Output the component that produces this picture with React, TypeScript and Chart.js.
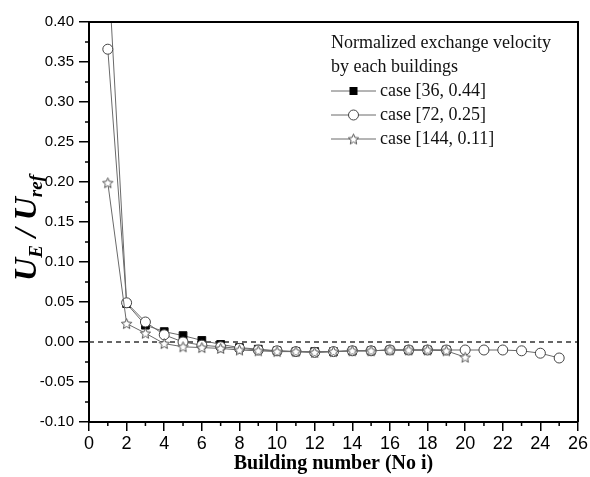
import React, { useEffect, useRef } from "react";
import { Chart, registerables } from "chart.js";

Chart.register(...registerables);

const buildings = [1, 2, 3, 4, 5, 6, 7, 8, 9, 10, 11, 12, 13, 14, 15, 16, 17, 18, 19, 20, 21, 22, 23, 24, 25];
const case36 = [0.48, 0.048, 0.021, 0.013, 0.008, 0.002, -0.003, -0.007, -0.009, -0.011, -0.012, -0.012, -0.012, -0.011, -0.011, -0.010, -0.010, -0.010, -0.010];
const case72 = [0.366, 0.049, 0.025, 0.009, 0.0, -0.004, -0.006, -0.008, -0.010, -0.011, -0.012, -0.013, -0.012, -0.011, -0.011, -0.010, -0.010, -0.010, -0.010, -0.010, -0.010, -0.010, -0.011, -0.014, -0.020];
const case144 = [0.199, 0.023, 0.011, -0.002, -0.006, -0.007, -0.008, -0.010, -0.011, -0.012, -0.012, -0.013, -0.012, -0.011, -0.011, -0.010, -0.010, -0.010, -0.011, -0.019];
const seriesLabels = ["case [36, 0.44]", "case [72, 0.25]", "case [144, 0.11]"];
const legendTitle = ["Normalized exchange velocity", "by each buildings"];
const xTitle = "Building number (No i)";

const LINE = "#6a6a6a";
const SERIF = '"Liberation Serif", "Times New Roman", serif';
const SANS = '"Liberation Sans", Arial, sans-serif';

function makeStar(size: number): HTMLCanvasElement {
  const c = document.createElement("canvas");
  c.width = size;
  c.height = size;
  const g = c.getContext("2d")!;
  const cx = size / 2, cy = size / 2 + 0.5;
  const R = size / 2 - 1, r = R * 0.45;
  g.beginPath();
  for (let i = 0; i < 10; i++) {
    const rad = i % 2 === 0 ? R : r;
    const a = -Math.PI / 2 + (i * Math.PI) / 5;
    const px = cx + rad * Math.cos(a), py = cy + rad * Math.sin(a);
    if (i === 0) g.moveTo(px, py); else g.lineTo(px, py);
  }
  g.closePath();
  g.fillStyle = "#fff";
  g.fill();
  g.strokeStyle = "#555";
  g.lineWidth = 1;
  g.stroke();
  return c;
}

function toPts(vals: number[]) {
  return vals.map((v, i) => ({ x: buildings[i], y: v }));
}

export default function App() {
  const ref = useRef<HTMLCanvasElement>(null);
  useEffect(() => {
    document.body.style.margin = "0";
    const star = makeStar(13);
    const styles: any[] = [
      { pointStyle: "rect", pointRadius: 5.5, bg: "#000", bc: "#111" },
      { pointStyle: "circle", pointRadius: 5, bg: "#fff", bc: "#444" },
      { pointStyle: star, pointRadius: 6, bg: "#fff", bc: "#555" },
    ];

    const decor = {
      id: "decor",
      beforeDatasetsDraw(chart: any) {
        const { ctx, chartArea: a, scales } = chart;
        const y0 = scales.y.getPixelForValue(0);
        ctx.save();
        ctx.strokeStyle = "#333";
        ctx.lineWidth = 1.5;
        ctx.setLineDash([5, 4]);
        ctx.beginPath();
        ctx.moveTo(a.left, y0);
        ctx.lineTo(a.right, y0);
        ctx.stroke();
        ctx.restore();
      },
      afterDraw(chart: any) {
        const { ctx, chartArea: a, scales } = chart;
        ctx.save();
        // frame top/right
        ctx.strokeStyle = "#000";
        ctx.lineWidth = 2;
        ctx.beginPath();
        ctx.moveTo(a.left, a.top);
        ctx.lineTo(a.right, a.top);
        ctx.lineTo(a.right, a.bottom);
        ctx.stroke();
        // minor ticks
        ctx.lineWidth = 1.5;
        ctx.beginPath();
        for (let v = 1; v < 26; v += 2) {
          const px = scales.x.getPixelForValue(v);
          ctx.moveTo(px, a.bottom);
          ctx.lineTo(px, a.bottom + 4);
        }
        for (let k = 0; k < 10; k++) {
          const v = -0.075 + k * 0.05;
          const py = scales.y.getPixelForValue(v);
          ctx.moveTo(a.left, py);
          ctx.lineTo(a.left - 4, py);
        }
        ctx.stroke();

        // x title
        ctx.fillStyle = "#000";
        ctx.font = `bold 20px ${SERIF}`;
        ctx.textAlign = "center";
        ctx.textBaseline = "alphabetic";
        ctx.fillText(xTitle, (a.left + a.right) / 2, 469);

        // y title: U_E / U_ref
        ctx.save();
        ctx.translate(36, 228);
        ctx.rotate(-Math.PI / 2);
        const big = `italic bold 32px ${SERIF}`;
        const small = `italic bold 19px ${SERIF}`;
        const parts: [string, string, number][] = [
          ["U", big, 0],
          ["E", small, 6],
          [" / ", big, 0],
          ["U", big, 0],
          ["ref", small, 6],
        ];
        let total = 0;
        for (const [t, f] of parts) {
          ctx.font = f;
          total += ctx.measureText(t).width;
        }
        let x = -total / 2;
        ctx.textAlign = "left";
        for (const [t, f, dy] of parts) {
          ctx.font = f;
          ctx.fillText(t, x, dy);
          x += ctx.measureText(t).width;
        }
        ctx.restore();

        // legend
        ctx.font = `18px ${SERIF}`;
        ctx.textAlign = "left";
        ctx.textBaseline = "middle";
        ctx.fillStyle = "#111";
        const lx = 331;
        let ly = 43;
        for (const t of legendTitle) {
          ctx.fillText(t, lx, ly);
          ly += 24;
        }
        seriesLabels.forEach((lab, i) => {
          ctx.strokeStyle = LINE;
          ctx.lineWidth = 1;
          ctx.beginPath();
          ctx.moveTo(lx, ly);
          ctx.lineTo(lx + 45, ly);
          ctx.stroke();
          const s = styles[i];
          const mx = lx + 22.5;
          if (i === 0) {
            ctx.fillStyle = "#000";
            ctx.fillRect(mx - 4, ly - 4, 8, 8);
          } else if (i === 1) {
            ctx.beginPath();
            ctx.arc(mx, ly, 5, 0, Math.PI * 2);
            ctx.fillStyle = "#fff";
            ctx.fill();
            ctx.strokeStyle = "#444";
            ctx.stroke();
          } else {
            ctx.drawImage(s.pointStyle, mx - 6.5, ly - 6.5);
          }
          ctx.fillStyle = "#111";
          ctx.fillText(lab, lx + 49, ly);
          ly += 24;
        });
        ctx.restore();
      },
    };

    const data = [case144, case72, case36];
    const order = [2, 1, 0];
    const chart = new Chart(ref.current!, {
      type: "line",
      data: {
        datasets: order.map((si, k) => ({
          label: seriesLabels[si],
          data: toPts(data[k]),
          borderColor: LINE,
          borderWidth: 1,
          pointStyle: styles[si].pointStyle,
          pointRadius: styles[si].pointRadius,
          pointBackgroundColor: styles[si].bg,
          pointBorderColor: styles[si].bc,
          pointBorderWidth: 1,
          tension: 0,
          fill: false,
        })),
      },
      options: {
        animation: false,
        responsive: false,
        events: [],
        layout: { padding: { left: 0, top: 22, right: 12, bottom: 0 } },
        plugins: { legend: { display: false }, tooltip: { enabled: false } },
        scales: {
          x: {
            type: "linear",
            min: 0,
            max: 26,
            afterFit: (s: any) => { s.height = 55; },
            ticks: { stepSize: 2, color: "#000", font: { family: SANS, size: 18 }, padding: 2, maxRotation: 0, autoSkip: false },
            grid: { drawOnChartArea: false, drawTicks: true, tickLength: 9, color: "#000", lineWidth: 1.5 },
            border: { display: true, color: "#000", width: 2 },
          },
          y: {
            min: -0.1,
            max: 0.4,
            afterFit: (s: any) => { s.width = 89; },
            ticks: { stepSize: 0.05, color: "#000", font: { family: SANS, size: 15 }, padding: 5, callback: (v: any) => Number(v).toFixed(2) },
            grid: { drawOnChartArea: false, drawTicks: true, tickLength: 10, color: "#000", lineWidth: 1.5 },
            border: { display: true, color: "#000", width: 2 },
          },
        },
      } as any,
      plugins: [decor],
    });
    return () => chart.destroy();
  }, []);
  return (
    <div style={{ width: 590, height: 477, background: "#fff" }}>
      <canvas ref={ref} width={590} height={477} style={{ width: 590, height: 477, display: "block" }} />
    </div>
  );
}
